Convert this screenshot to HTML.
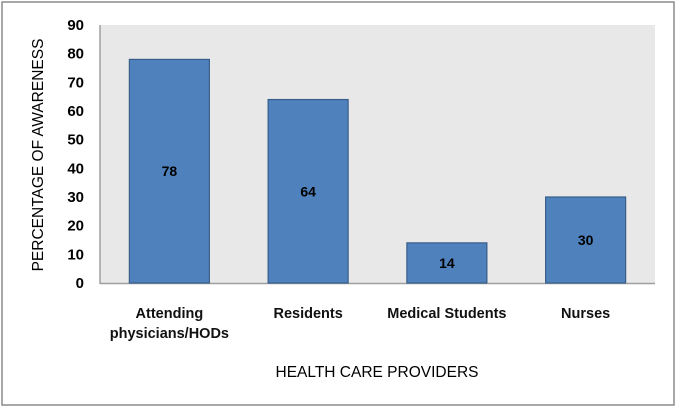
<!DOCTYPE html>
<html><head><meta charset="utf-8"><style>
body{margin:0;background:#fff;}
svg{display:block;font-family:"Liberation Sans",sans-serif;}
</style></head><body>
<svg id="c" width="677" height="408">
<rect x="2" y="2" width="672" height="403" fill="#fff" stroke="#8c8c8c" stroke-width="1.5"/>
<rect x="100" y="25" width="555" height="258" fill="#e8e8e8"/>
<line x1="100" y1="25" x2="100" y2="284" stroke="#a0a0a0" stroke-width="1.5"/>
<line x1="100" y1="283.5" x2="655" y2="283.5" stroke="#a0a0a0" stroke-width="1.5"/>
<text x="43" y="155" transform="rotate(-90 43 155)" text-anchor="middle" font-size="15.5" fill="#000">PERCENTAGE OF AWARENESS</text>
<text x="377" y="377" text-anchor="middle" font-size="15.5" fill="#000">HEALTH CARE PROVIDERS</text>
</svg>
<script>
const categories=[["Attending","physicians/HODs"],["Residents"],["Medical Students"],["Nurses"]];
const values=[78,64,14,30];
const yTicks=[0,10,20,30,40,50,60,70,80,90];
const svg=document.getElementById('c');const NS='http://www.w3.org/2000/svg';
const x0=100,x1=655,yTop=25,yBot=283,yMax=90;
const y=v=>yBot-(yBot-yTop)*v/yMax;
const bw=(x1-x0)/categories.length;
const cx=i=>x0+bw*(i+0.5);
function mk(t,a){const e=document.createElementNS(NS,t);for(const k in a)e.setAttribute(k,a[k]);svg.appendChild(e);return e;}
yTicks.forEach(v=>{const t=mk('text',{x:84,y:y(v)+5,'text-anchor':'end','font-size':15,'font-weight':'bold',fill:'#000'});t.textContent=v;

});
values.forEach((v,i)=>{const r=mk('rect',{x:cx(i)-40,y:y(v),width:80,height:yBot-y(v),fill:'#4f81bd',stroke:'#385d8a','stroke-width':1.2});


const t=mk('text',{x:cx(i),y:(y(v)+yBot)/2+5,'text-anchor':'middle','font-size':14,'font-weight':'bold',fill:'#000'});t.textContent=v;


categories[i].forEach((s,j)=>{const l=mk('text',{x:cx(i),y:318+j*20,'text-anchor':'middle','font-size':14.5,'font-weight':'bold',fill:'#111'});l.textContent=s;

});});
</script>
</body></html>
